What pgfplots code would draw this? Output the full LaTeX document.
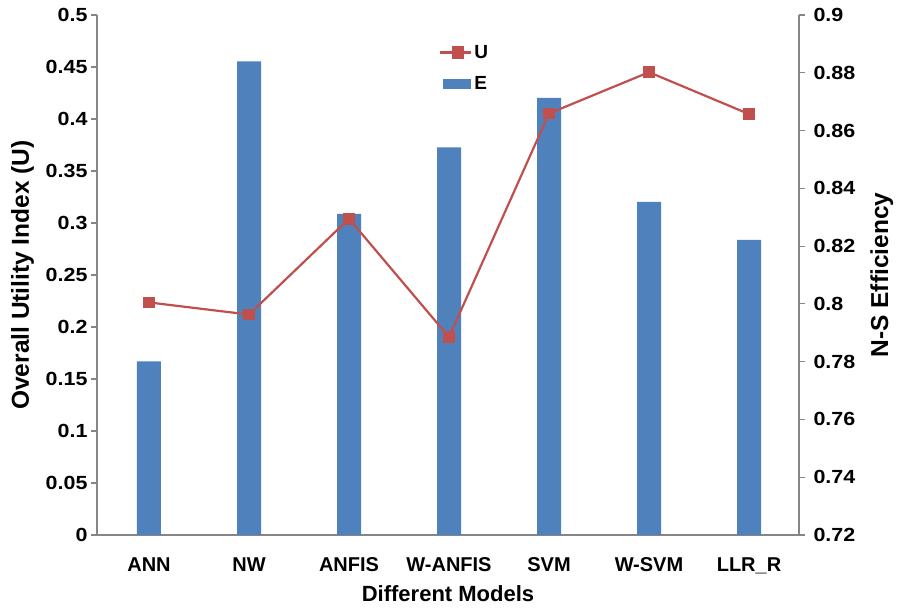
\documentclass[border=0pt]{standalone}
\usepackage{pgfplots}
\pgfplotsset{compat=1.18}
\usepackage{fontspec}
\setmainfont{Liberation Sans}
\newfontfamily\wideff{Liberation Sans}[FakeStretch=1.13]
\definecolor{barblue}{RGB}{79,129,189}
\definecolor{linered}{RGB}{192,80,77}
\definecolor{axgray}{RGB}{134,134,134}
\newcommand{\ytfont}{\wideff\bfseries\fontsize{19}{22}\selectfont}
\pgfplotsset{
  common/.style={
    width=702pt, height=520pt, scale only axis,
    at={(0pt,0pt)}, anchor=south west,
    xmin=-0.52, xmax=6.5,
    tick align=outside, major tick length=6pt,
    axis line style={axgray, line width=1.2pt},
    tick style={axgray, line width=1.2pt},
    /pgf/number format/assume math mode=true,
    yticklabel style={font=\ytfont},
    xticklabel style={font=\bfseries\fontsize{20}{23}\selectfont},
  }
}
\begin{document}
\begin{tikzpicture}
\begin{axis}[common,
  ymin=0, ymax=0.5,
  axis y line*=left, axis x line*=bottom,
  xtick={0,1,2,3,4,5,6},
  xticklabels={ANN,NW,ANFIS,W-ANFIS,SVM,W-SVM,LLR\_R},
  major x tick style={draw=none},
  ytick={0,0.05,0.1,0.15,0.2,0.25,0.3,0.35,0.4,0.45,0.5},
  yticklabels={0,0.05,0.1,0.15,0.2,0.25,0.3,0.35,0.4,0.45,0.5},
  xticklabel style={yshift=-13pt},
  ylabel={Overall Utility Index (U)},
  ylabel style={at={(axis description cs:-0.106,0.5)}, anchor=center,
    font=\bfseries\fontsize{24.5}{28}\selectfont},
  xlabel={Different Models},
  xlabel style={at={(axis description cs:0.5,-0.1135)}, anchor=center,
    font=\bfseries\fontsize{22}{25}\selectfont},
]
\addplot[ybar, bar width=0.24, fill=barblue, draw=none] coordinates {
 (0,0.167) (1,0.4555) (2,0.3087) (3,0.3728) (4,0.4202) (5,0.3202) (6,0.2837)};
\end{axis}
\begin{axis}[common,
  ymin=0.72, ymax=0.9,
  axis y line*=right, axis x line=none,
  ytick={0.72,0.74,0.76,0.78,0.8,0.82,0.84,0.86,0.88,0.9},
  yticklabels={0.72,0.74,0.76,0.78,0.8,0.82,0.84,0.86,0.88,0.9},
  yticklabel style={xshift=5pt},
  ylabel={N-S Efficiency},
  ylabel style={at={(axis description cs:1.118,0.5)}, anchor=center, rotate=0,
    font=\bfseries\fontsize{24.5}{28}\selectfont},
  legend style={at={(axis description cs:0.487,0.946)}, anchor=north west,
    draw=none, fill=none, font=\bfseries\fontsize{19}{22}\selectfont,
    row sep=13pt, inner sep=0pt,
    /tikz/every even column/.append style={column sep=0pt}},
  legend cell align=left,
]
\addplot[linered, line width=2.2pt, mark=square*, mark size=4.8pt,
  legend image code/.code={
    \draw[linered, line width=2.2pt] (0pt,0pt) -- (31pt,0pt);
    \fill[linered] (13pt,-5pt) rectangle (23pt,5pt);}]
 coordinates {
 (0,0.8005) (1,0.7963) (2,0.8295) (3,0.7885) (4,0.8659) (5,0.8802) (6,0.8657)};
\addlegendentry{U}
\addlegendimage{legend image code/.code={
    \fill[barblue] (3pt,-4.5pt) rectangle (30pt,4.5pt);}}
\addlegendentry{E}
\end{axis}
\pgfresetboundingbox
\path[use as bounding box] (-97pt,-77pt) rectangle (802pt,535pt);
\end{tikzpicture}
\end{document}
